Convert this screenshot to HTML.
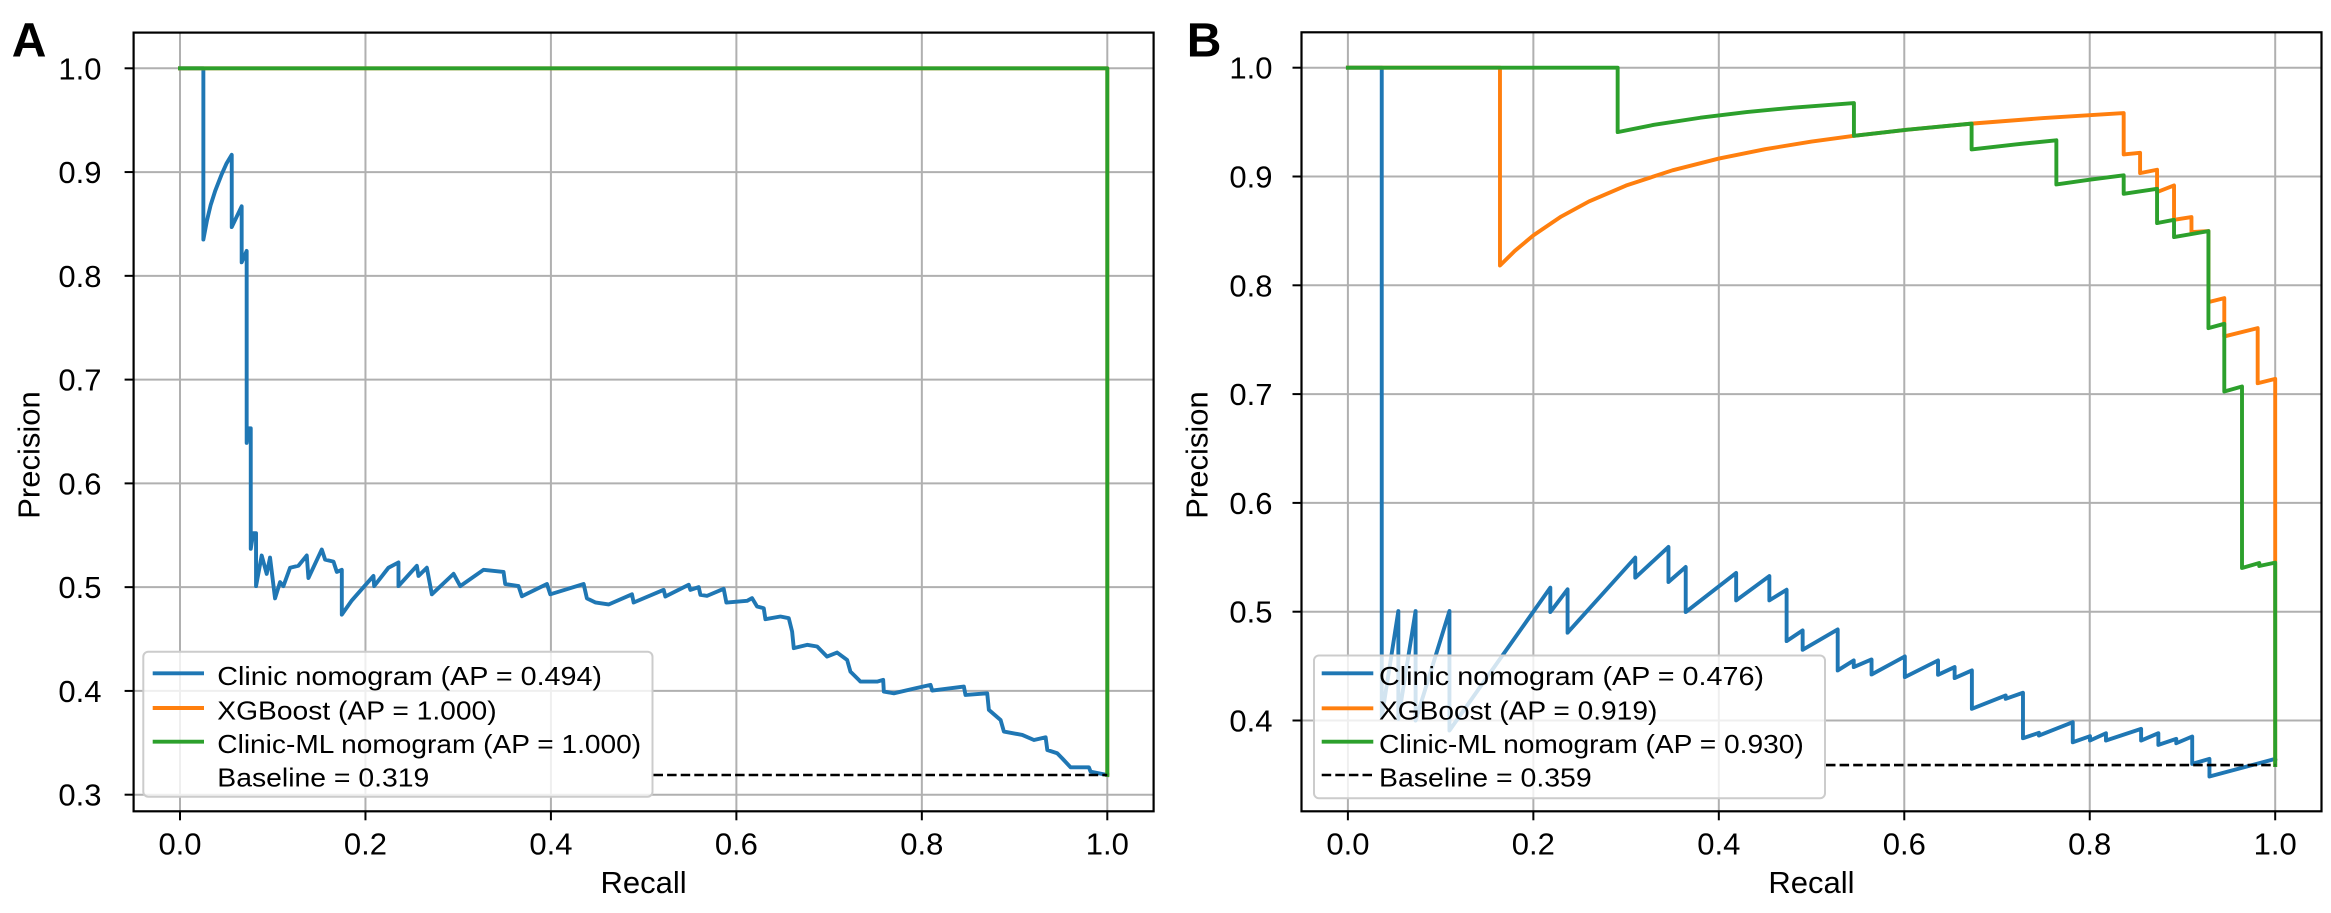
<!DOCTYPE html>
<html><head><meta charset="utf-8"><style>
html,body{margin:0;padding:0;background:#fff;}
svg{display:block;}
text{font-family:"Liberation Sans",Arial,sans-serif;fill:#000;}
.tk{font-size:31px;}
.lg{font-size:26px;}
.grid line{stroke:#b0b0b0;stroke-width:2;}
.ticks line{stroke:#000;stroke-width:2;}
.cv{fill:none;stroke-width:3.9;stroke-linejoin:round;stroke-linecap:square;vector-effect:non-scaling-stroke;}
</style></head><body>
<svg width="2331" height="913" viewBox="0 0 2331 913" xmlns="http://www.w3.org/2000/svg">
<rect width="2331" height="913" fill="#fff"/>

<!-- ================= PANEL A ================= -->
<g class="grid">
<line x1="180" y1="32.6" x2="180" y2="811.3"/>
<line x1="365.46" y1="32.6" x2="365.46" y2="811.3"/>
<line x1="550.92" y1="32.6" x2="550.92" y2="811.3"/>
<line x1="736.38" y1="32.6" x2="736.38" y2="811.3"/>
<line x1="921.84" y1="32.6" x2="921.84" y2="811.3"/>
<line x1="1107.3" y1="32.6" x2="1107.3" y2="811.3"/>
<line x1="133.6" y1="68.3" x2="1153.6" y2="68.3"/>
<line x1="133.6" y1="172.07" x2="1153.6" y2="172.07"/>
<line x1="133.6" y1="275.84" x2="1153.6" y2="275.84"/>
<line x1="133.6" y1="379.61" x2="1153.6" y2="379.61"/>
<line x1="133.6" y1="483.38" x2="1153.6" y2="483.38"/>
<line x1="133.6" y1="587.15" x2="1153.6" y2="587.15"/>
<line x1="133.6" y1="690.92" x2="1153.6" y2="690.92"/>
<line x1="133.6" y1="794.69" x2="1153.6" y2="794.69"/>
</g>

<g transform="matrix(927.3 0 0 -1037.7 180 1106)">
<polyline class="cv" stroke="#1f77b4" points="0,1 0.0252,1 0.0252,0.835 0.029,0.853 0.033,0.868 0.038,0.882 0.045,0.898 0.050,0.908 0.0558,0.9167 0.0558,0.847 0.0665,0.867 0.0665,0.813 0.0719,0.824 0.0719,0.639 0.0737,0.653 0.0763,0.653 0.0763,0.537 0.079,0.552 0.082,0.552 0.082,0.501 0.0881,0.5305 0.0935,0.5128 0.0971,0.5285 0.1025,0.4892 0.1079,0.5049 0.1115,0.501 0.1187,0.5187 0.1277,0.5206 0.1367,0.5305 0.1385,0.5088 0.1529,0.5363 0.1565,0.5265 0.1655,0.5246 0.1691,0.5147 0.1745,0.5167 0.1745,0.4735 0.1853,0.4872 0.2086,0.5108 0.2094,0.501 0.2248,0.5187 0.2356,0.5238 0.2356,0.501 0.2554,0.5206 0.2572,0.5108 0.2662,0.5187 0.2716,0.4931 0.295,0.5128 0.3022,0.501 0.3273,0.5167 0.3489,0.5147 0.3507,0.503 0.3651,0.501 0.3687,0.4912 0.3957,0.503 0.3993,0.4931 0.4353,0.503 0.4388,0.4892 0.4478,0.4853 0.4622,0.4833 0.4874,0.4931 0.4892,0.4852 0.5216,0.4974 0.5234,0.491 0.5486,0.5023 0.5504,0.4974 0.5594,0.5 0.5612,0.4926 0.5683,0.4916 0.5863,0.4984 0.5892,0.4852 0.6115,0.4868 0.6169,0.4894 0.6223,0.4814 0.6295,0.4797 0.6313,0.4691 0.6475,0.4717 0.6565,0.4701 0.6601,0.4572 0.6619,0.4412 0.6763,0.4444 0.6871,0.4428 0.6978,0.4331 0.7086,0.437 0.7194,0.4299 0.723,0.4186 0.732,0.4106 0.7338,0.409 0.7518,0.409 0.7583,0.4106 0.759,0.3994 0.7698,0.3977 0.7932,0.4026 0.8094,0.4058 0.8112,0.4003 0.8453,0.4042 0.8471,0.3961 0.8705,0.3977 0.8723,0.3817 0.8849,0.372 0.8885,0.3608 0.9083,0.3576 0.9209,0.3527 0.9335,0.3553 0.9353,0.3431 0.946,0.3399 0.9514,0.335 0.9604,0.3264 0.9802,0.3264 0.982,0.3222 1.0,0.319"/>
<polyline class="cv" stroke="#ff7f0e" points="0,1 1,1 1,0.319"/>
<polyline class="cv" stroke="#2ca02c" points="0,1 1,1 1,0.319"/>
</g>
<line x1="653.5" y1="775" x2="1107.3" y2="775" stroke="#000" stroke-width="2.6" stroke-dasharray="9.5 4.1"/>

<!-- spines A -->
<rect x="133.6" y="32.6" width="1020" height="778.7" fill="none" stroke="#000" stroke-width="2.2"/>
<g class="ticks">
<line x1="180" y1="811.3" x2="180" y2="820.3"/>
<line x1="365.46" y1="811.3" x2="365.46" y2="820.3"/>
<line x1="550.92" y1="811.3" x2="550.92" y2="820.3"/>
<line x1="736.38" y1="811.3" x2="736.38" y2="820.3"/>
<line x1="921.84" y1="811.3" x2="921.84" y2="820.3"/>
<line x1="1107.3" y1="811.3" x2="1107.3" y2="820.3"/>
<line x1="124.6" y1="68.3" x2="133.6" y2="68.3"/>
<line x1="124.6" y1="172.07" x2="133.6" y2="172.07"/>
<line x1="124.6" y1="275.84" x2="133.6" y2="275.84"/>
<line x1="124.6" y1="379.61" x2="133.6" y2="379.61"/>
<line x1="124.6" y1="483.38" x2="133.6" y2="483.38"/>
<line x1="124.6" y1="587.15" x2="133.6" y2="587.15"/>
<line x1="124.6" y1="690.92" x2="133.6" y2="690.92"/>
<line x1="124.6" y1="794.69" x2="133.6" y2="794.69"/>
</g>
<g class="tk" text-anchor="end">
<text x="101.5" y="79.3">1.0</text>
<text x="101.5" y="183.1">0.9</text>
<text x="101.5" y="286.8">0.8</text>
<text x="101.5" y="390.6">0.7</text>
<text x="101.5" y="494.4">0.6</text>
<text x="101.5" y="598.2">0.5</text>
<text x="101.5" y="701.9">0.4</text>
<text x="101.5" y="805.7">0.3</text>
</g>
<g class="tk" text-anchor="middle">
<text x="180" y="854.5">0.0</text>
<text x="365.46" y="854.5">0.2</text>
<text x="550.92" y="854.5">0.4</text>
<text x="736.38" y="854.5">0.6</text>
<text x="921.84" y="854.5">0.8</text>
<text x="1107.3" y="854.5">1.0</text>
<text x="643.6" y="893">Recall</text>
<text transform="translate(39.3,455) rotate(-90)">Precision</text>
</g>

<!-- legend A -->
<rect x="143.3" y="651.7" width="509.2" height="145" rx="5" ry="5" fill="#fff" fill-opacity="0.8" stroke="#cccccc" stroke-width="2"/>
<line x1="152.7" y1="673.3" x2="204" y2="673.3" stroke="#1f77b4" stroke-width="3.9"/>
<line x1="152.7" y1="708" x2="204" y2="708" stroke="#ff7f0e" stroke-width="3.9"/>
<line x1="152.7" y1="741.7" x2="204" y2="741.7" stroke="#2ca02c" stroke-width="3.9"/>
<g class="lg">
<text x="217.3" y="685" textLength="384.7" lengthAdjust="spacingAndGlyphs">Clinic nomogram (AP = 0.494)</text>
<text x="217.3" y="719.3" textLength="279.3" lengthAdjust="spacingAndGlyphs">XGBoost (AP = 1.000)</text>
<text x="217.3" y="753" textLength="423.8" lengthAdjust="spacingAndGlyphs">Clinic-ML nomogram (AP = 1.000)</text>
<text x="217.3" y="786.5" textLength="212" lengthAdjust="spacingAndGlyphs">Baseline = 0.319</text>
</g>

<text x="11.7" y="56.7" style="font-size:48px;font-weight:bold;">A</text>

<!-- ================= PANEL B ================= -->
<g class="grid">
<line x1="1347.9" y1="32.3" x2="1347.9" y2="811.3"/>
<line x1="1533.36" y1="32.3" x2="1533.36" y2="811.3"/>
<line x1="1718.82" y1="32.3" x2="1718.82" y2="811.3"/>
<line x1="1904.28" y1="32.3" x2="1904.28" y2="811.3"/>
<line x1="2089.74" y1="32.3" x2="2089.74" y2="811.3"/>
<line x1="2275.2" y1="32.3" x2="2275.2" y2="811.3"/>
<line x1="1301.5" y1="67.7" x2="2321.5" y2="67.7"/>
<line x1="1301.5" y1="176.5" x2="2321.5" y2="176.5"/>
<line x1="1301.5" y1="285.3" x2="2321.5" y2="285.3"/>
<line x1="1301.5" y1="394.1" x2="2321.5" y2="394.1"/>
<line x1="1301.5" y1="502.9" x2="2321.5" y2="502.9"/>
<line x1="1301.5" y1="611.7" x2="2321.5" y2="611.7"/>
<line x1="1301.5" y1="720.5" x2="2321.5" y2="720.5"/>
</g>

<g transform="matrix(927.3 0 0 -1088 1347.9 1155.7)">
<polyline class="cv" stroke="#1f77b4" points="0,1 0.0365,1 0.0365,0.403 0.0544,0.5006 0.0544,0.4015 0.073,0.5006 0.073,0.4 0.1095,0.5006 0.1095,0.3908 0.2183,0.5221 0.2183,0.4997 0.2369,0.5206 0.2369,0.4807 0.3099,0.5497 0.3099,0.5313 0.3457,0.5595 0.3457,0.5273 0.3643,0.5411 0.3643,0.4997 0.4187,0.5356 0.4187,0.5104 0.4545,0.5328 0.4545,0.5104 0.4731,0.5202 0.4731,0.473 0.4904,0.4828 0.4904,0.465 0.5282,0.4837 0.5282,0.446 0.5455,0.4552 0.5455,0.4491 0.5647,0.4561 0.5647,0.4423 0.6006,0.4589 0.6006,0.4399 0.6364,0.4552 0.6364,0.442 0.6543,0.4491 0.6543,0.439 0.6729,0.446 0.6729,0.4107 0.7094,0.423 0.7094,0.4199 0.728,0.4255 0.728,0.3837 0.7452,0.3887 0.7452,0.3862 0.7817,0.3985 0.7817,0.38 0.8003,0.3856 0.8003,0.3816 0.8175,0.3883 0.8175,0.3816 0.8554,0.3923 0.8554,0.3816 0.874,0.3883 0.874,0.3776 0.8933,0.3831 0.8933,0.3791 0.9105,0.3853 0.9105,0.3601 0.9291,0.3647 0.9291,0.3485 1.0,0.3647"/>
<polyline class="cv" stroke="#ff7f0e" points="0,1 0.164,1 0.164,0.8182 0.18,0.8316 0.2,0.8459 0.23,0.8632 0.26,0.8771 0.3,0.8917 0.35,0.9057 0.4,0.9165 0.45,0.9251 0.5,0.9321 0.5457,0.9374 0.6,0.9427 0.6726,0.9486 0.75,0.9537 0.8366,0.9583 0.8366,0.9203 0.8543,0.9218 0.8543,0.9031 0.8726,0.9062 0.8726,0.8857 0.8909,0.8918 0.8909,0.8602 0.9097,0.8627 0.9097,0.8489 0.928,0.8498 0.928,0.7845 0.9451,0.7882 0.9451,0.753 0.9811,0.7606 0.9811,0.71 1.0,0.714 1.0,0.359"/>
<polyline class="cv" stroke="#2ca02c" points="0,1 0.2909,1 0.2909,0.9408 0.33,0.9475 0.38,0.954 0.43,0.9592 0.48,0.9633 0.5457,0.9675 0.5457,0.9374 0.6,0.9427 0.6726,0.9486 0.6726,0.9249 0.72,0.9295 0.764,0.9333 0.764,0.8927 0.8,0.8971 0.8366,0.9011 0.8366,0.8841 0.8726,0.8887 0.8726,0.8572 0.8909,0.8602 0.8909,0.8443 0.928,0.8498 0.928,0.7606 0.9451,0.7646 0.9451,0.7024 0.9642,0.707 0.9642,0.5402 0.9828,0.5448 0.9828,0.542 1.0,0.5451 1.0,0.359"/>
</g>
<line x1="1826" y1="765.1" x2="2275.2" y2="765.1" stroke="#000" stroke-width="2.6" stroke-dasharray="9.5 4.1"/>

<rect x="1301.5" y="32.3" width="1020" height="779" fill="none" stroke="#000" stroke-width="2.2"/>
<g class="ticks">
<line x1="1347.9" y1="811.3" x2="1347.9" y2="820.3"/>
<line x1="1533.36" y1="811.3" x2="1533.36" y2="820.3"/>
<line x1="1718.82" y1="811.3" x2="1718.82" y2="820.3"/>
<line x1="1904.28" y1="811.3" x2="1904.28" y2="820.3"/>
<line x1="2089.74" y1="811.3" x2="2089.74" y2="820.3"/>
<line x1="2275.2" y1="811.3" x2="2275.2" y2="820.3"/>
<line x1="1292.5" y1="67.7" x2="1301.5" y2="67.7"/>
<line x1="1292.5" y1="176.5" x2="1301.5" y2="176.5"/>
<line x1="1292.5" y1="285.3" x2="1301.5" y2="285.3"/>
<line x1="1292.5" y1="394.1" x2="1301.5" y2="394.1"/>
<line x1="1292.5" y1="502.9" x2="1301.5" y2="502.9"/>
<line x1="1292.5" y1="611.7" x2="1301.5" y2="611.7"/>
<line x1="1292.5" y1="720.5" x2="1301.5" y2="720.5"/>
</g>
<g class="tk" text-anchor="end">
<text x="1272.5" y="78.7">1.0</text>
<text x="1272.5" y="187.5">0.9</text>
<text x="1272.5" y="296.3">0.8</text>
<text x="1272.5" y="405.1">0.7</text>
<text x="1272.5" y="513.9">0.6</text>
<text x="1272.5" y="622.7">0.5</text>
<text x="1272.5" y="731.5">0.4</text>
</g>
<g class="tk" text-anchor="middle">
<text x="1347.9" y="854.5">0.0</text>
<text x="1533.36" y="854.5">0.2</text>
<text x="1718.82" y="854.5">0.4</text>
<text x="1904.28" y="854.5">0.6</text>
<text x="2089.74" y="854.5">0.8</text>
<text x="2275.2" y="854.5">1.0</text>
<text x="1811.5" y="893">Recall</text>
<text transform="translate(1207.3,455) rotate(-90)">Precision</text>
</g>

<!-- legend B -->
<rect x="1314" y="655.5" width="511" height="142.8" rx="5" ry="5" fill="#fff" fill-opacity="0.8" stroke="#cccccc" stroke-width="2"/>
<line x1="1321.7" y1="673.3" x2="1373.3" y2="673.3" stroke="#1f77b4" stroke-width="3.9"/>
<line x1="1321.7" y1="708.3" x2="1373.3" y2="708.3" stroke="#ff7f0e" stroke-width="3.9"/>
<line x1="1321.7" y1="741.7" x2="1373.3" y2="741.7" stroke="#2ca02c" stroke-width="3.9"/>
<line x1="1321.7" y1="775" x2="1373.3" y2="775" stroke="#000" stroke-width="2.6" stroke-dasharray="9.5 4.1"/>
<g class="lg">
<text x="1379" y="685" textLength="385" lengthAdjust="spacingAndGlyphs">Clinic nomogram (AP = 0.476)</text>
<text x="1379" y="719.5" textLength="278.3" lengthAdjust="spacingAndGlyphs">XGBoost (AP = 0.919)</text>
<text x="1379" y="753" textLength="424.8" lengthAdjust="spacingAndGlyphs">Clinic-ML nomogram (AP = 0.930)</text>
<text x="1379" y="786.5" textLength="212.7" lengthAdjust="spacingAndGlyphs">Baseline = 0.359</text>
</g>

<text x="1186.7" y="56.7" style="font-size:48px;font-weight:bold;">B</text>
</svg>
</body></html>
